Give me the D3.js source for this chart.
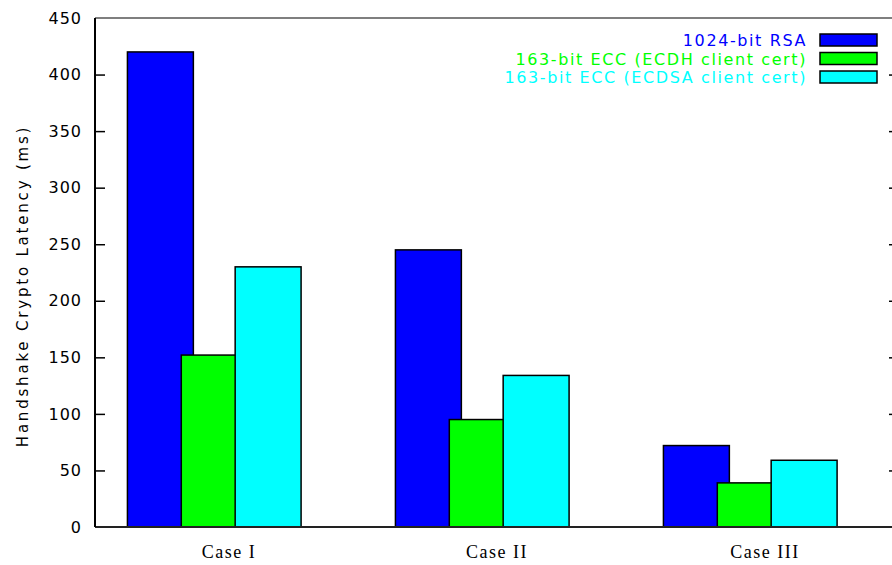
<!DOCTYPE html>
<html>
<head>
<meta charset="utf-8">
<script src="https://cdn.jsdelivr.net/npm/d3@7"></script>
<style>
body { margin: 0; background: #fff; }
</style>
</head>
<body>
<div class="visHolder"></div>
<script>
const w = 892;
const h = 565;

// data
const cases = ['Case I', 'Case II', 'Case III'];
const seriesNames = ['1024-bit RSA', '163-bit ECC (ECDH client cert)', '163-bit ECC (ECDSA client cert)'];
const rsa = [420, 245, 72];
const ecdh = [152, 95, 39];
const ecdsa = [230, 134, 59];
const yTicks = [0, 50, 100, 150, 200, 250, 300, 350, 400, 450];
const colors = ['#0000ff', '#00ff00', '#00ffff'];

const series = [rsa, ecdh, ecdsa];

const svg = d3.select('.visHolder').append('svg').attr('width', w).attr('height', h);

const pLeft = 95, pRight = 899, pTop = 18, pBottom = 527;

const xScale = d3.scaleLinear().domain([-0.5, 2.5]).range([pLeft, pRight]);
const yScale = d3.scaleLinear().domain([0, 450]).range([pBottom, pTop]);

// bars, each series shifted, later ones drawn over earlier
const barW = 0.246;
const offsets = [-0.379, -0.178, 0.023];
series.forEach(function (vals, j) {
  svg.append('g').selectAll('rect').data(vals).enter().append('rect')
    .attr('x', (d, i) => xScale(i + offsets[j]))
    .attr('y', d => yScale(d))
    .attr('width', xScale(barW) - xScale(0))
    .attr('height', d => pBottom - yScale(d))
    .attr('fill', colors[j])
    .attr('stroke', '#000')
    .attr('stroke-width', 1.5);
});

// frame
svg.append('line').attr('x1', pLeft).attr('x2', w).attr('y1', pTop).attr('y2', pTop)
  .attr('stroke', '#555').attr('stroke-width', 1.5);
svg.append('line').attr('x1', pLeft).attr('x2', w).attr('y1', pBottom).attr('y2', pBottom)
  .attr('stroke', '#222').attr('stroke-width', 2);
svg.append('line').attr('x1', pLeft).attr('x2', pLeft).attr('y1', pTop).attr('y2', pBottom)
  .attr('stroke', '#000').attr('stroke-width', 2);

// y axis, ticks pointing inward
const axisLeft = d3.axisLeft(yScale).tickValues(yTicks).tickSize(-10).tickPadding(13);
const gy = svg.append('g').attr('transform', 'translate(' + pLeft + ',0)').call(axisLeft);
gy.select('.domain').remove();
gy.selectAll('line').attr('stroke', '#000').attr('stroke-width', 1.5);
gy.selectAll('text').attr('font-family', 'DejaVu Sans, sans-serif').attr('font-size', 16)
  .attr('letter-spacing', 1).attr('fill', '#000');
// skip tick line at 0 and 450 (on frame)
gy.selectAll('.tick').filter(d => d === 0 || d === 450).select('line').remove();

// right side ticks
const axisRight = d3.axisRight(yScale).tickValues(yTicks.filter(d => d > 0 && d < 450)).tickSize(-10).tickFormat('');
const gr = svg.append('g').attr('transform', 'translate(' + pRight + ',0)').call(axisRight);
gr.select('.domain').remove();
gr.selectAll('line').attr('stroke', '#000').attr('stroke-width', 1.5);

// x labels
svg.append('g').selectAll('text').data(cases).enter().append('text')
  .attr('x', (d, i) => xScale(i))
  .attr('y', 558)
  .attr('text-anchor', 'middle')
  .attr('font-family', 'Liberation Serif, serif')
  .attr('font-size', 18)
  .attr('letter-spacing', 1.5)
  .text(d => d);

// y title
svg.append('text')
  .attr('transform', 'translate(28,' + 286 + ') rotate(-90)')
  .attr('text-anchor', 'middle')
  .attr('font-family', 'DejaVu Sans, sans-serif')
  .attr('font-size', 15)
  .attr('letter-spacing', 2.8)
  .text('Handshake Crypto Latency (ms)');

// legend
const legendY = [40, 58.5, 77];
const lg = svg.append('g');
seriesNames.forEach(function (name, j) {
  lg.append('text')
    .attr('x', 807)
    .attr('y', legendY[j] + 6)
    .attr('text-anchor', 'end')
    .attr('font-family', 'DejaVu Sans, sans-serif')
    .attr('font-size', 16)
    .attr('letter-spacing', 1.6)
    .attr('fill', colors[j])
    .text(name);
  lg.append('rect')
    .attr('x', 820)
    .attr('y', legendY[j] - 6)
    .attr('width', 57)
    .attr('height', 12)
    .attr('fill', colors[j])
    .attr('stroke', '#000')
    .attr('stroke-width', 1.5);
});
</script>
</body>
</html>
